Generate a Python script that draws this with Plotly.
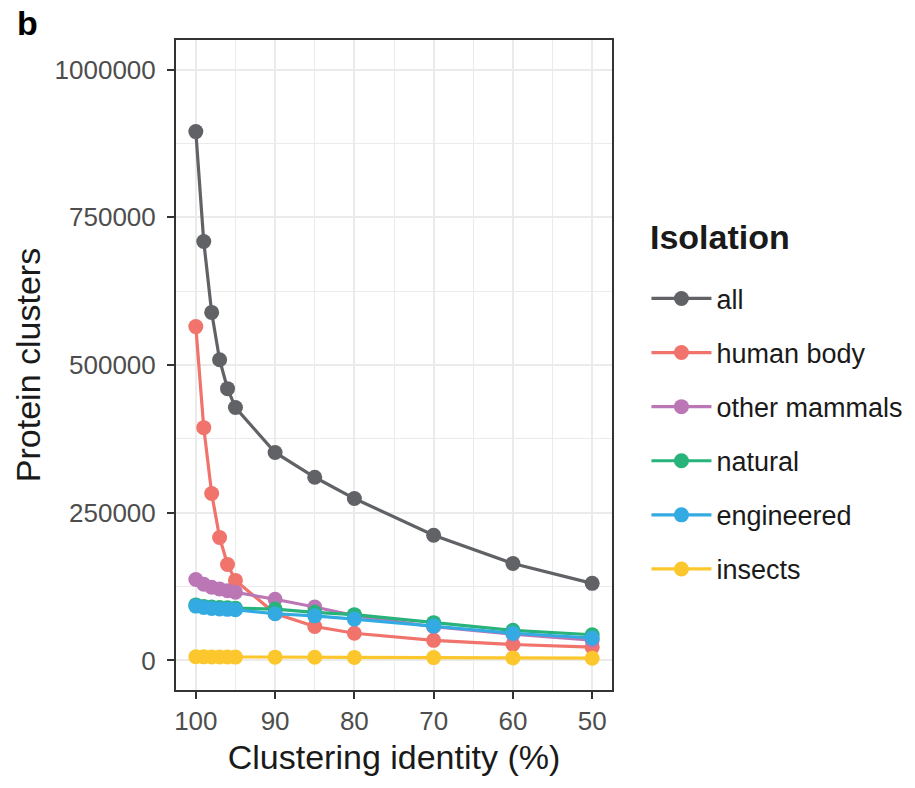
import plotly.graph_objects as go

# Clustering identity thresholds (%)
identity = [100, 99, 98, 97, 96, 95, 90, 85, 80, 70, 60, 50]

# Number of protein clusters per isolation source
all_src = [895000, 709000, 589000, 509000, 460000, 428000, 352000, 310000, 274000, 212000, 164000, 130500]
human_body = [565000, 394000, 282500, 208000, 162500, 135500, 79500, 57500, 46000, 34000, 27000, 22500]
other_mammals = [137000, 129000, 124000, 121000, 118000, 115500, 103500, 90500, 76000, 57000, 44500, 34500]
natural = [94000, 91500, 90500, 89500, 89000, 88500, 87000, 81500, 77500, 64000, 51000, 43500]
engineered = [92000, 89500, 88000, 87000, 86500, 86000, 79000, 75500, 70000, 58500, 46000, 38000]
insects = [6200, 6100, 6000, 5900, 5800, 5700, 5600, 5400, 5200, 4800, 4300, 3800]

series_names = ["all", "human body", "other mammals", "natural", "engineered", "insects"]
series_values = [all_src, human_body, other_mammals, natural, engineered, insects]
series_colors = ["#606266", "#F0736C", "#BB77B5", "#27B37A", "#34AAE3", "#FCC72D"]

y_ticks = [0, 250000, 500000, 750000, 1000000]
x_ticks = [100, 90, 80, 70, 60, 50]

FONT = "Liberation Sans, Arial, sans-serif"

fig = go.Figure()
for name, vals, col in zip(series_names, series_values, series_colors):
    fig.add_trace(go.Scatter(
        x=identity, y=vals, name=name, mode="lines+markers",
        line=dict(color=col, width=3.2),
        marker=dict(color=col, size=15),
        legendgroup=name,
    ))

axis_common = dict(
    showline=True, mirror=True, linecolor="#333333", linewidth=2,
    ticks="outside", ticklen=7, tickwidth=2, tickcolor="#333333",
    tickfont=dict(family=FONT, size=26, color="#4D4D4D"),
    showgrid=True, gridcolor="#EBEBEB", gridwidth=2,
    zeroline=False,
)

fig.update_layout(
    width=915, height=788,
    margin=dict(l=176, r=303, t=40, b=98, autoexpand=False),
    paper_bgcolor="white", plot_bgcolor="white",
    font=dict(family=FONT, color="#1A1A1A"),
    xaxis=dict(
        range=[102.5, 47.5], tickvals=x_ticks,
        minor=dict(tickvals=[95, 85, 75, 65, 55], showgrid=True,
                   gridcolor="#EBEBEB", gridwidth=1, ticks=""),
        title=dict(text="Clustering identity (%)",
                   font=dict(family=FONT, size=34, color="#1A1A1A"), standoff=10),
        **axis_common,
    ),
    yaxis=dict(
        range=[-50000, 1050000], tickvals=y_ticks, tickformat="d",
        minor=dict(tickvals=[125000, 375000, 625000, 875000], showgrid=True,
                   gridcolor="#EBEBEB", gridwidth=1, ticks=""),
        title=dict(text="Protein clusters",
                   font=dict(family=FONT, size=34, color="#1A1A1A"), standoff=4),
        ticklabelstandoff=6,
        **axis_common,
    ),
    legend=dict(
        font=dict(family=FONT, size=27, color="#1A1A1A"),
        x=1.079, xanchor="left", y=0.394, yanchor="middle",
        tracegroupgap=16, itemwidth=60,
        bgcolor="rgba(0,0,0,0)",
    ),
    annotations=[
        dict(text="<b>b</b>", xref="paper", yref="paper", x=-0.37, y=1.058,
             xanchor="left", yanchor="top", showarrow=False,
             font=dict(family=FONT, size=34, color="#000000")),
        dict(text="<b>Isolation</b>", xref="paper", yref="paper", x=1.083, y=(690 - 237) / 650,
             xanchor="left", yanchor="middle", showarrow=False,
             font=dict(family=FONT, size=34, color="#1A1A1A")),
    ],
)

fig.write_html("out.html")
